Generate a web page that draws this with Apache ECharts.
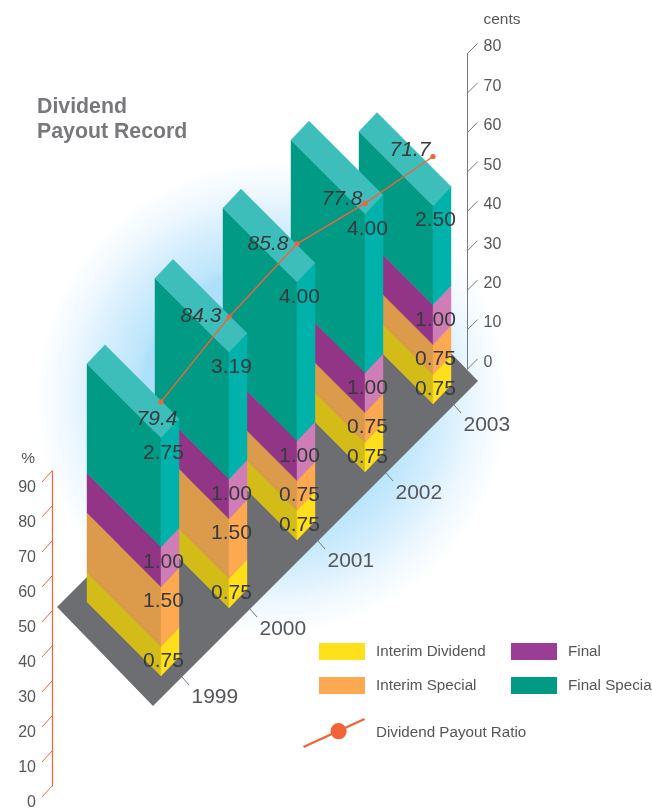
<!DOCTYPE html>
<html>
<head>
<meta charset="utf-8">
<style>html,body{margin:0;padding:0;background:#fff}#chart{width:652px;height:812px}</style>
<script src="https://cdn.jsdelivr.net/npm/echarts@6/dist/echarts.min.js"></script>
</head>
<body>
<div id="chart"></div>
<script>
// Dividend per share by year, in cents
const categories = ['1999', '2000', '2001', '2002', '2003'];
const interimDividend = [0.75, 0.75, 0.75, 0.75, 0.75];
const interimSpecial = [1.50, 1.50, 0.75, 0.75, 0.75];
const finalDividend = [1.00, 1.00, 1.00, 1.00, 1.00];
const finalSpecial = [2.75, 3.19, 4.00, 4.00, 2.50];
// Dividend payout ratio, per cent
const payoutRatio = [79.4, 84.3, 85.8, 77.8, 71.7];
// Axis scales
const centsRange = [0, 80];
const percentRange = [0, 90];
const tickStep = 10;

const FONT = '"Liberation Sans", Arial, sans-serif';
const TEXT = '#555659';
const VALUE_TEXT = '#38393b';
const ORANGE = '#f2633a';

// Oblique projection: each year steps up-right along the floor, bars have a
// long side running up-left and a short side running up-right.
const DEPTH = [-74, -74];
const SIDE = [18, -19];
const PAYOUT_LABEL_SHIFT = [[-4, 17], [-28, -1], [-29, 0], [-23, -4], [-23, -6]];

const stackSeries = [
  { name: 'Interim Dividend', values: interimDividend, swatch: '#ffe01a', left: '#d4bc18', right: '#ffdf19' },
  { name: 'Interim Special', values: interimSpecial, swatch: '#fca951', left: '#dc9a4b', right: '#fca951' },
  { name: 'Final', values: finalDividend, swatch: '#9a3d94', left: '#933587', right: '#ce7db7' },
  { name: 'Final Special', values: finalSpecial, swatch: '#009a85', left: '#009a85', right: '#00b2aa', top: '#3dbebb' }
];

// Running base of each segment
const bases = categories.map(() => 0);
stackSeries.forEach(s => {
  s.data = s.values.map((v, i) => {
    const row = [i, bases[i], bases[i] + v, v];
    bases[i] += v;
    return row;
  });
});

// Data coordinate to the sheared floor plane
function project(api, yearIndex, value) {
  const origin = api.coord([0, 0]);
  const p = api.coord([yearIndex, value]);
  return [p[0], p[1] - (p[0] - origin[0])];
}
const add = (p, d) => [p[0] + d[0], p[1] + d[1]];
function poly(points, fill, z2) {
  return {
    type: 'polygon', z2: z2,
    shape: { points: points },
    style: { fill: fill, stroke: fill, lineWidth: 0.4 }
  };
}

function stackRenderer(spec) {
  return function (params, api) {
    const i = api.value(0), lo = api.value(1), hi = api.value(2), val = api.value(3);
    const a = project(api, i, lo), b = project(api, i, hi);
    const z2 = (categories.length - i) * 10;
    const children = [
      poly([a, b, add(b, DEPTH), add(a, DEPTH)], spec.left, z2),
      poly([a, b, add(b, SIDE), add(a, SIDE)], spec.right, z2)
    ];
    if (spec.top) {
      children.push(poly([b, add(b, SIDE), add(add(b, SIDE), DEPTH), add(b, DEPTH)], spec.top, z2));
    }
    children.push({
      type: 'text', z2: 1000, silent: true,
      style: {
        x: b[0] + 2.5, y: b[1] + 15, text: val.toFixed(2),
        font: '21px ' + FONT, fill: VALUE_TEXT, align: 'center', verticalAlign: 'middle'
      }
    });
    return { type: 'group', children: children };
  };
}

const bars = stackSeries.map(spec => ({
  type: 'custom', name: spec.name, xAxisIndex: 0, yAxisIndex: 0, z: 3,
  coordinateSystem: 'cartesian2d',
  itemStyle: { color: spec.swatch },
  data: spec.data,
  renderItem: stackRenderer(spec)
}));

// Grey floor plate beneath all the bars
const floorSeries = {
  type: 'custom', name: 'floor', xAxisIndex: 0, yAxisIndex: 0, z: 2, silent: true,
  data: [[0, 0]],
  renderItem: function (params, api) {
    const first = project(api, 0, 0);
    const last = project(api, categories.length - 1, 0);
    const front = add(first, [-8, 30]);
    const right = add(last, [45, -23]);
    const left = add(front, [-96, -99]);
    const back = [left[0] + right[0] - front[0], left[1] + right[1] - front[1]];
    return { type: 'polygon', shape: { points: [front, right, back, left] }, style: { fill: '#6d6e71' } };
  }
};

// Year labels with their short leader lines off the floor edge
const yearSeries = {
  type: 'custom', name: 'years', xAxisIndex: 0, yAxisIndex: 0, z: 2, silent: true,
  data: categories.map((c, i) => [i, 0]),
  renderItem: function (params, api) {
    const i = api.value(0);
    const p = project(api, i, 0);
    return {
      type: 'group', children: [
        { type: 'line', shape: { x1: p[0] + 21, y1: p[1] + 1, x2: p[0] + 28, y2: p[1] + 9 }, style: { stroke: '#77787b', lineWidth: 1 } },
        { type: 'text', style: { x: p[0] + 30.5, y: p[1] + 21, text: categories[i], font: '21px ' + FONT, fill: TEXT, align: 'left', verticalAlign: 'middle' } }
      ]
    };
  }
};

// Payout ratio line, plotted against the hidden percentage scale of the bar grid
const payoutSeries = {
  type: 'custom', name: 'Dividend Payout Ratio', xAxisIndex: 0, yAxisIndex: 1, z: 5,
  itemStyle: { color: ORANGE },
  data: payoutRatio.map((v, i) => [i, v]),
  renderItem: function (params, api) {
    const i = api.value(0), v = api.value(1);
    const p = project(api, i, v);
    const children = [];
    if (i < payoutRatio.length - 1) {
      const q = project(api, i + 1, payoutRatio[i + 1]);
      children.push({ type: 'line', shape: { x1: p[0], y1: p[1], x2: q[0], y2: q[1] }, style: { stroke: ORANGE, lineWidth: 1.4 } });
    }
    children.push({ type: 'circle', shape: { cx: p[0], cy: p[1], r: 2.6 }, style: { fill: ORANGE } });
    const shift = PAYOUT_LABEL_SHIFT[i];
    children.push({
      type: 'text',
      style: {
        x: p[0] + shift[0], y: p[1] + shift[1], text: v.toFixed(1),
        font: 'italic 21px ' + FONT, fill: VALUE_TEXT, align: 'center', verticalAlign: 'middle'
      }
    });
    return { type: 'group', children: children };
  }
};

// Slanted tick marks for the two visible scales
function tickSeries(xIdx, yIdx, range, dx, dy, color) {
  const ticks = [];
  for (let t = range[0]; t <= range[1]; t += tickStep) ticks.push([0, t]);
  return {
    type: 'custom', name: 'ticks' + yIdx, xAxisIndex: xIdx, yAxisIndex: yIdx, z: 2, silent: true,
    data: ticks,
    renderItem: function (params, api) {
      const p = api.coord([0, api.value(1)]);
      return { type: 'line', shape: { x1: p[0], y1: p[1], x2: p[0] + dx, y2: p[1] + dy }, style: { stroke: color, lineWidth: 1 } };
    }
  };
}

const hiddenX = grid => ({ type: 'value', gridIndex: grid, min: 0, max: 1, show: false });

const option = {
  animation: false,
  backgroundColor: '#ffffff',
  textStyle: { fontFamily: FONT },
  title: {
    text: 'Dividend\nPayout Record', left: 32, top: 90,
    textStyle: { fontFamily: FONT, fontSize: 21.3, fontWeight: 'bold', color: '#77787b', lineHeight: 25 }
  },
  graphic: [{
    type: 'circle', silent: true, z: -1,
    shape: { cx: 272, cy: 398, r: 237 },
    style: {
      fill: new echarts.graphic.RadialGradient(0.5, 0.5, 0.5, [
        { offset: 0, color: '#a8defa' },
        { offset: 0.55, color: '#aee0fb' },
        { offset: 0.58, color: '#bce5fb' },
        { offset: 0.75, color: '#d8effd' },
        { offset: 0.87, color: '#eff8fe' },
        { offset: 1, color: '#ffffff' }
      ])
    }
  }],
  grid: [
    { left: 161, width: 272, top: 358.4, height: 317.6, outerBoundsMode: 'none' },
    { left: 467.5, width: 1, top: 53.5, height: 315.5, outerBoundsMode: 'none' },
    { left: 52, width: 1, top: 471, height: 315, outerBoundsMode: 'none' }
  ],
  xAxis: [
    { type: 'category', gridIndex: 0, data: categories, boundaryGap: false, show: false },
    hiddenX(1),
    hiddenX(2)
  ],
  yAxis: [
    { type: 'value', gridIndex: 0, min: 0, max: 8, show: false },
    { type: 'value', gridIndex: 0, min: 0, max: 92, show: false },
    {
      type: 'value', gridIndex: 1, position: 'right',
      min: centsRange[0], max: centsRange[1], interval: tickStep,
      name: 'cents', nameLocation: 'end', nameGap: 26,
      nameTextStyle: { fontFamily: FONT, fontSize: 15.5, color: TEXT, align: 'left', padding: [0, 0, 0, 16] },
      axisLine: { show: true, lineStyle: { color: '#77787b', width: 1 } },
      axisTick: { show: false }, splitLine: { show: false },
      axisLabel: { margin: 15, fontFamily: FONT, fontSize: 16, color: TEXT, verticalAlign: 'bottom', lineHeight: 13 }
    },
    {
      type: 'value', gridIndex: 2, position: 'left',
      min: percentRange[0], max: percentRange[1], interval: tickStep,
      name: '%', nameLocation: 'end', nameGap: 4,
      nameTextStyle: { fontFamily: FONT, fontSize: 15.5, color: TEXT, align: 'right', padding: [0, 17, 0, 0] },
      axisLine: { show: true, lineStyle: { color: ORANGE, width: 1.2 } },
      axisTick: { show: false }, splitLine: { show: false },
      axisLabel: { margin: 16, fontFamily: FONT, fontSize: 16, color: TEXT, verticalAlign: 'top', lineHeight: 34 }
    }
  ],
  legend: [
    {
      left: 314, top: 638, orient: 'vertical', itemWidth: 46, itemHeight: 17, itemGap: 17,
      selectedMode: false, icon: 'rect',
      textStyle: { fontFamily: FONT, fontSize: 15.2, color: TEXT, padding: [0, 0, 0, 6] },
      data: ['Interim Dividend', 'Interim Special']
    },
    {
      left: 506, top: 638, orient: 'vertical', itemWidth: 46, itemHeight: 17, itemGap: 17,
      selectedMode: false, icon: 'rect',
      textStyle: { fontFamily: FONT, fontSize: 15.2, color: TEXT, padding: [0, 0, 0, 6] },
      data: ['Final', 'Final Special']
    },
    {
      left: 298, top: 713, itemWidth: 62, itemHeight: 30, selectedMode: false,
      textStyle: { fontFamily: FONT, fontSize: 15.2, color: TEXT, padding: [0, 0, 0, 6] },
      data: [{
        name: 'Dividend Payout Ratio',
        icon: 'path://M0 27.5L60 0L61 2L1 29.5ZM27 13a8 8 0 1 1 16 0a8 8 0 1 1 -16 0Z'
      }]
    }
  ],
  series: [
    floorSeries,
    yearSeries,
    ...bars,
    payoutSeries,
    tickSeries(1, 2, centsRange, 10, -10, '#77787b'),
    tickSeries(2, 3, percentRange, -10, 11, ORANGE)
  ]
};

echarts.init(document.getElementById('chart'), null, { renderer: 'canvas' }).setOption(option);
</script>
</body>
</html>
